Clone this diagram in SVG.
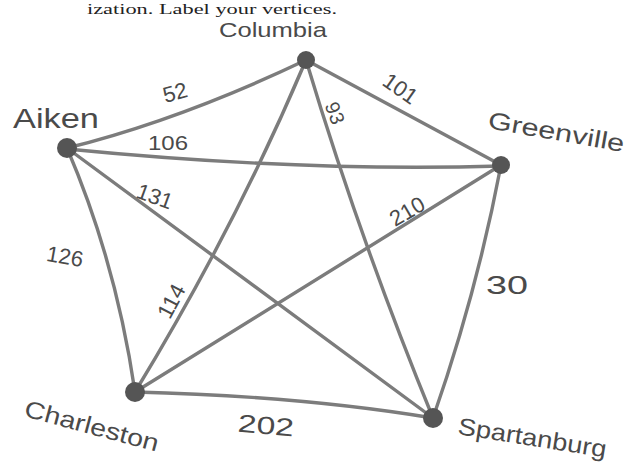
<svg xmlns="http://www.w3.org/2000/svg" width="637" height="475" viewBox="0 0 637 475">
<style>
.edge{fill:none;stroke:#7c7c7c;stroke-width:3.4;stroke-linecap:round}
.node{fill:#555}
.lbl{font-family:"Liberation Sans","DejaVu Sans",sans-serif;fill:#4a4a4a;font-size:24px}
.num{font-family:"Liberation Sans","DejaVu Sans",sans-serif;fill:#4a4a4a;font-size:20px}
.hdr{font-family:"Liberation Serif","DejaVu Serif",serif;fill:#222;font-size:15px}
</style>
<rect width="637" height="475" fill="#fff"/>
<text class="hdr" x="337" y="14" text-anchor="end" textLength="250" lengthAdjust="spacingAndGlyphs">ization. Label your vertices.</text>
<g id="connectors">
<path id="e-aiken-columbia" class="edge" d="M67,148 Q180,120 306,60"/>
<path id="e-aiken-greenville" class="edge" d="M67,149 Q300,172 501,166"/>
<path id="e-aiken-spartanburg" class="edge" d="M67,148 L433,418"/>
<path id="e-aiken-charleston" class="edge" d="M67,148 Q116,262 135,392"/>
<path id="e-columbia-greenville" class="edge" d="M306,60 L501,165"/>
<path id="e-columbia-spartanburg" class="edge" d="M306,60 Q360,240 433,418"/>
<path id="e-columbia-charleston" class="edge" d="M306,60 Q236,226 135,392"/>
<path id="e-greenville-charleston" class="edge" d="M501,165 L135,392"/>
<path id="e-greenville-spartanburg" class="edge" d="M501,165 Q477,292 433,418"/>
<path id="e-charleston-spartanburg" class="edge" d="M135,392 Q300,396 433,418"/>
</g>
<g id="edge-labels">
<text class="num" x="175" y="100" text-anchor="middle" transform="rotate(-15 175 92)" style="font-size:22px">52</text>
<text class="num" x="400" y="96" text-anchor="middle" transform="rotate(35 400 89)" style="font-size:22px">101</text>
<text class="num" x="335" y="120" text-anchor="middle" transform="rotate(70 335 113)">93</text>
<text class="num" x="168" y="150" text-anchor="middle" textLength="40" lengthAdjust="spacingAndGlyphs">106</text>
<text class="num" x="155" y="204" text-anchor="middle" transform="rotate(20 155 196)" style="font-size:22px">131</text>
<text class="num" x="407" y="219" text-anchor="middle" transform="rotate(-30 407 211)" style="font-size:22px">210</text>
<text class="num" x="65" y="264" text-anchor="middle" transform="rotate(10 65 256)" style="font-size:22px">126</text>
<text class="num" x="171" y="309" text-anchor="middle" transform="rotate(-62 171 301)" style="font-size:22px">114</text>
<text class="num" x="507" y="294" text-anchor="middle" textLength="42" lengthAdjust="spacingAndGlyphs" style="font-size:26px">30</text>
<text class="num" x="266" y="434" text-anchor="middle" textLength="56" lengthAdjust="spacingAndGlyphs" transform="rotate(5 266 425)" style="font-size:25px">202</text>
</g>
<g id="node-columbia">
<circle class="node" cx="306" cy="60" r="9"/>
<text class="lbl" x="219" y="37" textLength="108" lengthAdjust="spacingAndGlyphs" style="font-size:21px">Columbia</text>
</g>
<g id="node-greenville">
<circle class="node" cx="501" cy="165" r="9"/>
<text class="lbl" x="487" y="128" textLength="138" lengthAdjust="spacingAndGlyphs" transform="rotate(10 487 128)">Greenville</text>
</g>
<g id="node-spartanburg">
<circle class="node" cx="433" cy="418" r="10"/>
<text class="lbl" x="457" y="434" textLength="150" lengthAdjust="spacingAndGlyphs" transform="rotate(9 457 434)">Spartanburg</text>
</g>
<g id="node-charleston">
<circle class="node" cx="135" cy="392" r="10"/>
<text class="lbl" x="23" y="416" textLength="138" lengthAdjust="spacingAndGlyphs" transform="rotate(15 23 416)">Charleston</text>
</g>
<g id="node-aiken">
<circle class="node" cx="67" cy="148" r="10"/>
<text class="lbl" x="13" y="128" textLength="86" lengthAdjust="spacingAndGlyphs" style="font-size:28px">Aiken</text>
</g>
</svg>
